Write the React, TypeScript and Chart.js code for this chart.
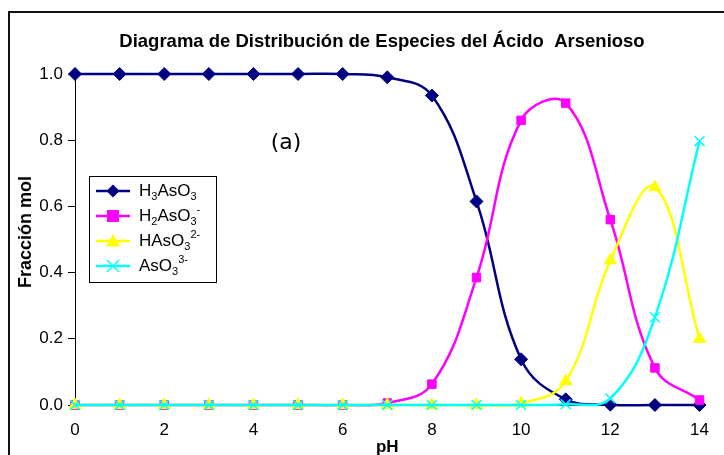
import React, { useEffect, useRef } from 'react';
import { Chart, registerables } from 'chart.js';

Chart.register(...registerables);

// ---- data ----
const pHValues = [0, 1, 2, 3, 4, 5, 6, 7, 8, 9, 10, 11, 12, 13, 14];
const h3aso3 = [1, 1, 1, 1, 1, 1, 1, 0.99, 0.935, 0.615, 0.138, 0.017, 0.001, 0, 0];
const h2aso3 = [0, 0, 0, 0, 0, 0, 0, 0.006, 0.063, 0.385, 0.86, 0.912, 0.56, 0.112, 0.015];
const haso3 = [0, 0, 0, 0, 0, 0, 0, 0, 0, 0, 0.005, 0.072, 0.437, 0.658, 0.2];
const aso3 = [0, 0, 0, 0, 0, 0, 0, 0, 0, 0, 0, 0.002, 0.02, 0.265, 0.797];
const xTickValues = [0, 2, 4, 6, 8, 10, 12, 14];
const yTickValues = [0, 0.2, 0.4, 0.6, 0.8, 1.0];

const titleText = 'Diagrama de Distribución de Especies del Ácido  Arsenioso';
const xTitle = 'pH';
const yTitle = 'Fracción mol';
const annotation = '(a)';

type Part = [string, '' | 'sub' | 'sup'];
const legendLabels: Part[][] = [
  [['H', ''], ['3', 'sub'], ['AsO', ''], ['3', 'sub']],
  [['H', ''], ['2', 'sub'], ['AsO', ''], ['3', 'sub'], ['-', 'sup']],
  [['HAsO', ''], ['3', 'sub'], ['2-', 'sup']],
  [['AsO', ''], ['3', 'sub'], ['3-', 'sup']],
];
const seriesNames = ['H3AsO3', 'H2AsO3-', 'HAsO3 2-', 'AsO3 3-'];
const seriesColors = ['#000080', '#FF00FF', '#FFFF00', '#00FFFF'];
const seriesMarkers = ['diamond', 'square', 'triangle', 'x'];

const FONT = '"Liberation Sans", Arial, sans-serif';

function drawMarker(ctx: CanvasRenderingContext2D, kind: string, x: number, y: number, color: string) {
  ctx.save();
  ctx.fillStyle = color;
  ctx.strokeStyle = color;
  ctx.beginPath();
  if (kind === 'diamond') {
    const r = 6.5;
    ctx.moveTo(x, y - r); ctx.lineTo(x + r, y); ctx.lineTo(x, y + r); ctx.lineTo(x - r, y); ctx.closePath(); ctx.fill();
  } else if (kind === 'square') {
    const r = 6;
    ctx.rect(x - r, y - r, 2 * r, 2 * r); ctx.fill();
  } else if (kind === 'triangle') {
    const r = 7;
    ctx.moveTo(x, y - r); ctx.lineTo(x + r, y + r * 0.8); ctx.lineTo(x - r, y + r * 0.8); ctx.closePath(); ctx.fill();
  } else {
    const r = 6;
    ctx.lineWidth = 1.5;
    ctx.moveTo(x - r, y - r); ctx.lineTo(x + r, y + r);
    ctx.moveTo(x + r, y - r); ctx.lineTo(x - r, y + r);
    ctx.stroke();
  }
  ctx.restore();
}

function drawChem(ctx: CanvasRenderingContext2D, parts: Part[], x: number, y: number) {
  let cx = x;
  for (const [t, kind] of parts) {
    if (kind === '') {
      ctx.font = `17px ${FONT}`;
      ctx.fillText(t, cx, y);
    } else if (kind === 'sub') {
      ctx.font = `11px ${FONT}`;
      ctx.fillText(t, cx, y + 6);
    } else {
      ctx.font = `11px ${FONT}`;
      ctx.fillText(t, cx, y - 6);
    }
    cx += ctx.measureText(t).width;
  }
}

const decorPlugin = {
  id: 'decor',
  afterDraw(chart: any) {
    const ctx: CanvasRenderingContext2D = chart.ctx;
    const area = chart.chartArea;
    ctx.save();
    // title
    ctx.fillStyle = '#000';
    ctx.textAlign = 'center';
    ctx.textBaseline = 'middle';
    ctx.font = `bold 18.5px ${FONT}`;
    ctx.fillText(titleText, 382, 42);
    // x title
    ctx.font = `bold 17px ${FONT}`;
    ctx.fillText(xTitle, (area.left + area.right) / 2, 447);
    // y title
    ctx.save();
    ctx.translate(26, 232);
    ctx.rotate(-Math.PI / 2);
    ctx.font = `bold 18px ${FONT}`;
    ctx.fillText(yTitle, 0, 0);
    ctx.restore();
    // annotation
    ctx.font = `22px "DejaVu Sans", Verdana, sans-serif`;
    ctx.fillText(annotation, 286, 143);
    // legend
    const lx = 89, ly = 176, lw = 127, lh = 106;
    ctx.fillStyle = '#fff';
    ctx.fillRect(lx, ly, lw, lh);
    ctx.strokeStyle = '#000';
    ctx.lineWidth = 1;
    ctx.strokeRect(lx + 0.5, ly + 0.5, lw, lh);
    ctx.textAlign = 'left';
    ctx.textBaseline = 'middle';
    for (let i = 0; i < legendLabels.length; i++) {
      const y = ly + 15 + i * 25;
      ctx.strokeStyle = seriesColors[i];
      ctx.lineWidth = 2.5;
      ctx.beginPath();
      ctx.moveTo(lx + 7, y);
      ctx.lineTo(lx + 41, y);
      ctx.stroke();
      drawMarker(ctx, seriesMarkers[i], lx + 24, y, seriesColors[i]);
      ctx.fillStyle = '#000';
      drawChem(ctx, legendLabels[i], lx + 50, y);
    }
    ctx.restore();
  },
};

const pointStyles: any = { diamond: 'rectRot', square: 'rect', triangle: 'triangle', x: 'crossRot' };
const pointRadii: any = { diamond: 6.5, square: 6, triangle: 7, x: 7 };
const seriesData = [h3aso3, h2aso3, haso3, aso3];

export default function App() {
  const ref = useRef<HTMLCanvasElement>(null);
  useEffect(() => {
    if (!ref.current) return;
    const chart = new Chart(ref.current, {
      type: 'line',
      data: {
        datasets: seriesData.map((vals, i) => ({
          label: seriesNames[i],
          data: pHValues.map((x, j) => ({ x, y: vals[j] })),
          borderColor: seriesColors[i],
          backgroundColor: seriesColors[i],
          borderWidth: 2.5,
          pointStyle: pointStyles[seriesMarkers[i]],
          pointRadius: pointRadii[seriesMarkers[i]],
          pointBorderWidth: seriesMarkers[i] === 'x' ? 1.5 : 1,
          tension: 0.4,
          clip: false as any,
          order: 4 - i,
        })),
      },
      options: {
        animation: false,
        responsive: false,
        events: [],
        layout: { padding: { top: 74, right: 20, left: 0, bottom: 0 } },
        elements: { line: { capBezierPoints: false } },
        plugins: { legend: { display: false }, tooltip: { enabled: false }, title: { display: false } },
        scales: {
          x: {
            type: 'linear',
            min: 0,
            max: 14,
            afterBuildTicks: (s: any) => { s.ticks = xTickValues.map((v) => ({ value: v })); },
            afterFit: (s: any) => { s.height = 50; },
            grid: { display: false, drawTicks: false },
            border: { display: true, color: '#000', width: 1 },
            ticks: { color: '#000', font: { family: FONT, size: 17 }, padding: 15, maxRotation: 0 },
          },
          y: {
            type: 'linear',
            min: 0,
            max: 1,
            afterBuildTicks: (s: any) => { s.ticks = yTickValues.map((v) => ({ value: v })); },
            afterFit: (s: any) => { s.width = 75; },
            grid: { drawOnChartArea: false, drawTicks: true, tickLength: 7, color: '#000' },
            border: { display: true, color: '#000', width: 1 },
            ticks: { color: '#000', font: { family: FONT, size: 17 }, padding: 5, callback: (v: any) => Number(v).toFixed(1) },
          },
        },
      } as any,
      plugins: [decorPlugin],
    });
    return () => chart.destroy();
  }, []);
  return (
    <div style={{ position: 'fixed', left: 0, top: 0, width: 724, height: 455, overflow: 'hidden', background: '#fff' }}>
      <div style={{ position: 'absolute', left: 8, top: 11, width: 800, height: 600, borderTop: '2px solid #111', borderLeft: '2px solid #111' }} />
      <canvas ref={ref} width={724} height={455} style={{ position: 'absolute', left: 0, top: 0, display: 'block' }} />
    </div>
  );
}
